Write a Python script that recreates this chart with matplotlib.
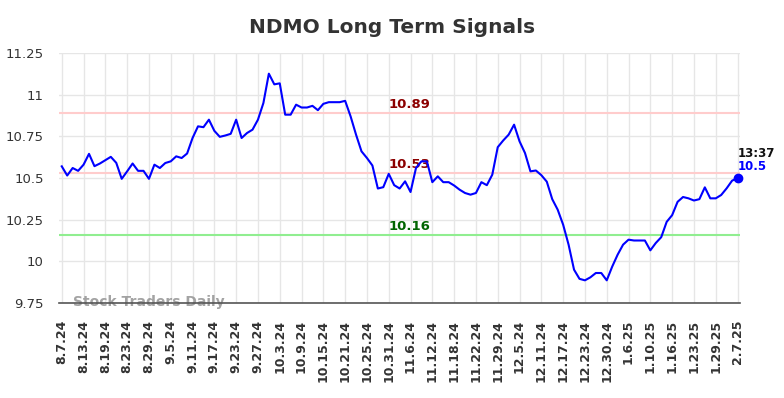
import matplotlib.pyplot as plt

# closing values, one per trading day (8.7.24 .. 2.7.25)
prices = [
    10.57, 10.515, 10.56, 10.543, 10.58, 10.645, 10.571, 10.587, 10.607, 10.627,
    10.591, 10.495, 10.54, 10.587, 10.543, 10.543, 10.495, 10.58, 10.56, 10.59,
    10.60, 10.63, 10.62, 10.647, 10.74, 10.81, 10.805, 10.85, 10.783, 10.747,
    10.755, 10.765, 10.85, 10.74, 10.77, 10.79, 10.85, 10.95, 11.126, 11.062,
    11.068, 10.88, 10.88, 10.94, 10.923, 10.923, 10.933, 10.907, 10.945, 10.955,
    10.955, 10.955, 10.963, 10.87, 10.76, 10.66, 10.62, 10.575, 10.437, 10.445,
    10.525, 10.457, 10.437, 10.48, 10.416, 10.56, 10.60, 10.60, 10.475, 10.51,
    10.475, 10.475, 10.455, 10.43, 10.41, 10.40, 10.41, 10.475, 10.457, 10.52,
    10.685, 10.725, 10.76, 10.82, 10.72, 10.65, 10.54, 10.545, 10.517, 10.478,
    10.373, 10.31, 10.22, 10.10, 9.95, 9.895, 9.886, 9.904, 9.93, 9.93,
    9.886, 9.968, 10.04, 10.10, 10.13, 10.125, 10.125, 10.125, 10.066, 10.11,
    10.145, 10.237, 10.277, 10.357, 10.386, 10.378, 10.365, 10.373, 10.444, 10.378,
    10.378, 10.398, 10.438, 10.484, 10.50,
]

tick_labels = [
    "8.7.24", "8.13.24", "8.19.24", "8.23.24", "8.29.24", "9.5.24", "9.11.24",
    "9.17.24", "9.23.24", "9.27.24", "10.3.24", "10.9.24", "10.15.24", "10.21.24",
    "10.25.24", "10.31.24", "11.6.24", "11.12.24", "11.18.24", "11.22.24",
    "11.29.24", "12.5.24", "12.11.24", "12.17.24", "12.23.24", "12.30.24",
    "1.6.25", "1.10.25", "1.16.25", "1.23.25", "1.29.25", "2.7.25",
]

upper_levels = [10.89, 10.53]
lower_level = 10.16
last_time = "13:37"

fig = plt.figure(figsize=(7.84, 3.98), dpi=100)
ax = fig.add_axes([0.0753, 0.2387, 0.8689, 0.6281])

x = list(range(len(prices)))

for lv in upper_levels:
    ax.axhline(lv, color="#ffcccc", lw=1.5, zorder=1)
    ax.text(60, lv + 0.012, f"{lv:g}", color="#8b0000", fontsize=9.5,
            fontweight="bold", va="bottom", ha="left", zorder=3)
ax.axhline(lower_level, color="#90ee90", lw=1.5, zorder=1)
ax.text(60, lower_level + 0.012, f"{lower_level:g}", color="#006400", fontsize=9.5,
        fontweight="bold", va="bottom", ha="left", zorder=3)

ax.plot(x, prices, color="#0000ff", lw=1.5, zorder=4)
ax.plot(x[-1], prices[-1], "o", color="#0000ff", ms=6, zorder=5, clip_on=False)
ax.text(x[-1], prices[-1] + 0.145, last_time, fontsize=8.5, fontweight="bold",
        color="#111111", ha="left", va="center")
ax.text(x[-1], prices[-1] + 0.068, f"{prices[-1]:g}", fontsize=8.5, fontweight="bold",
        color="#0000ff", ha="left", va="center")

ax.set_xlim(-0.5, len(prices) - 0.5)
ax.set_ylim(9.75, 11.25)
ax.set_xticks(range(0, len(prices), 4))
ax.set_xticklabels(tick_labels, rotation=90, fontsize=9, fontweight="bold", color="#333333")
ax.set_yticks([9.75, 10, 10.25, 10.5, 10.75, 11, 11.25])
ax.set_yticklabels(["9.75", "10", "10.25", "10.5", "10.75", "11", "11.25"],
                   fontsize=9.5, color="#333333")
ax.tick_params(axis="x", length=0, pad=12)
ax.tick_params(axis="y", length=0, pad=11)
ax.grid(True, color="#e6e6e6", lw=1)
ax.set_axisbelow(True)
for s in ["top", "right", "left"]:
    ax.spines[s].set_visible(False)
ax.spines["bottom"].set_color("#555555")
ax.spines["bottom"].set_linewidth(1.2)

ax.text(2, 9.755, "Stock Traders Daily", fontsize=10, fontweight="bold",
        color="#999999", alpha=0.9, va="center", ha="left", zorder=2)

fig.suptitle("NDMO Long Term Signals", x=0.5, y=0.955, fontsize=14.5,
             fontweight="bold", color="#333333")

fig.savefig("out.png", dpi=100)
